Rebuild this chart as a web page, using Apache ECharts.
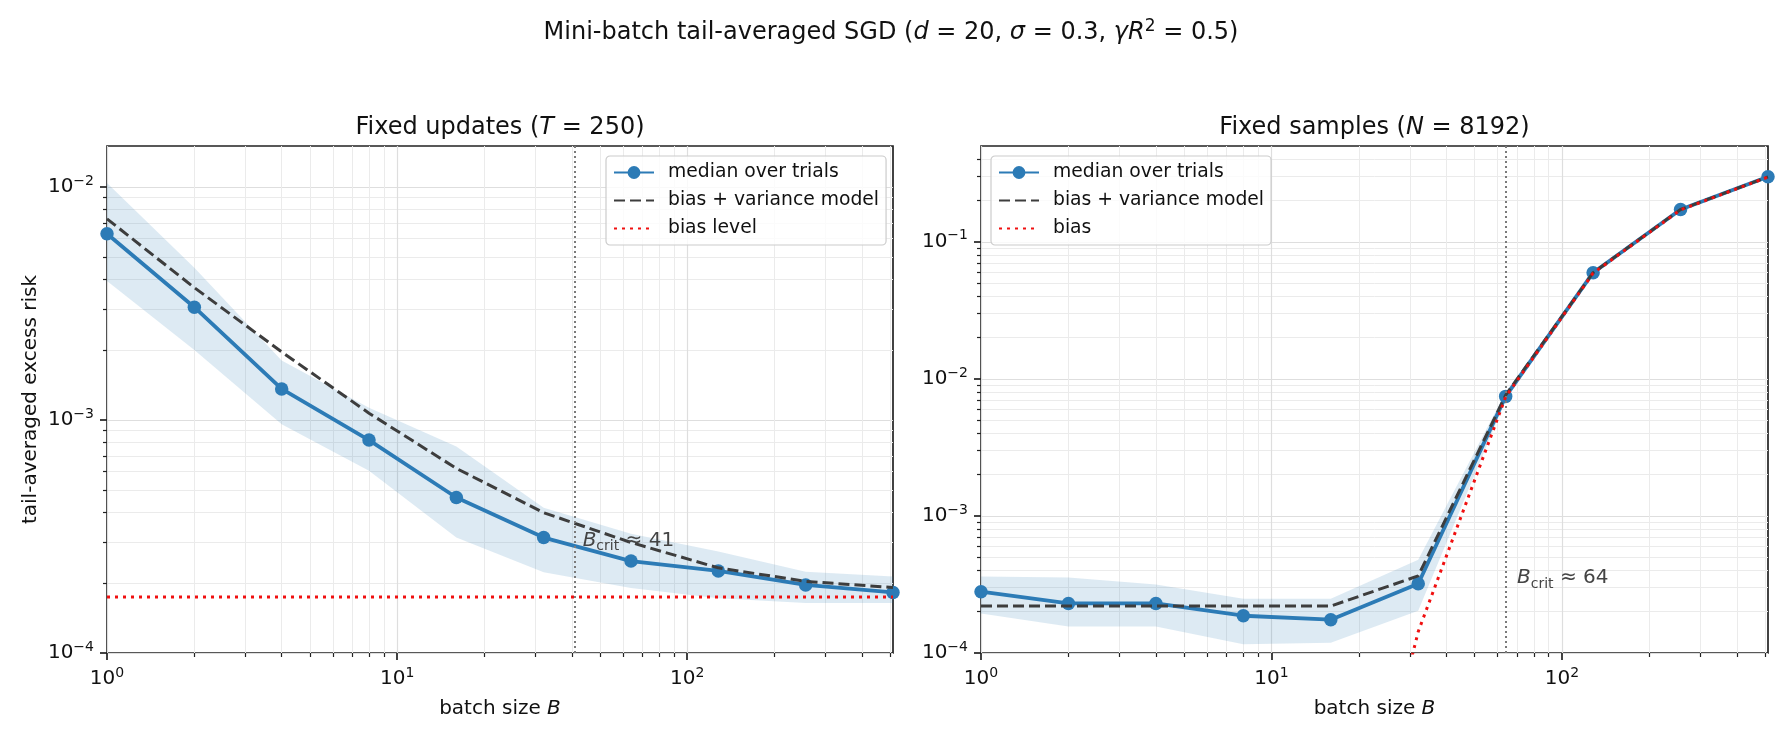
<!DOCTYPE html>
<html>
<head>
<meta charset="utf-8">
<script src="https://cdn.jsdelivr.net/npm/echarts@6/dist/echarts.min.js"></script>
<style>
  html, body { margin: 0; padding: 0; background: #fff; }
  #chart { width: 1783px; height: 736px; }
</style>
</head>
<body>
<div id="chart"></div>
<script>
// batch sizes (x axis of both panels)
const batchSizes = [1, 2, 4, 8, 16, 32, 64, 128, 256, 512]

// left panel: fixed updates (T = 250)
const updMedian = [6.3e-3, 3.05e-3, 1.36e-3, 8.2e-4, 4.65e-4, 3.13e-4, 2.48e-4, 2.25e-4, 1.96e-4, 1.82e-4]
const updModel = [7.3e-3, 3.7e-3, 1.96e-3, 1.07e-3, 6.2e-4, 4.0e-4, 2.98e-4, 2.32e-4, 2.03e-4, 1.91e-4]
const updLow = [3.95e-3, 2.0e-3, 9.6e-4, 6.05e-4, 3.13e-4, 2.22e-4, 1.9e-4, 1.72e-4, 1.64e-4, 1.64e-4]
const updHigh = [1.04e-2, 4.5e-3, 1.8e-3, 1.13e-3, 7.7e-4, 4.2e-4, 3.25e-4, 2.73e-4, 2.23e-4, 2.13e-4]
const updBiasLevel = 1.74e-4
const updBcrit = 41

// right panel: fixed samples (N = 8192)
const smpMedian = [2.8e-4, 2.3e-4, 2.3e-4, 1.87e-4, 1.75e-4, 3.2e-4, 7.45e-3, 5.95e-2, 1.72e-1, 2.98e-1]
const smpModel = [2.2e-4, 2.2e-4, 2.2e-4, 2.2e-4, 2.2e-4, 3.65e-4, 7.6e-3, 5.95e-2, 1.72e-1, 2.98e-1]
const smpBias = [null, null, null, null, 4e-7, 1.43e-4, 7.4e-3, 5.9e-2, 1.71e-1, 2.97e-1]
const smpLow = [1.94e-4, 1.56e-4, 1.56e-4, 1.16e-4, 1.19e-4, 2.03e-4, 7.0e-3, 5.75e-2, 1.69e-1, 2.95e-1]
const smpHigh = [3.62e-4, 3.55e-4, 3.16e-4, 2.49e-4, 2.49e-4, 4.79e-4, 8.0e-3, 6.15e-2, 1.75e-1, 3.01e-1]
const smpBcrit = 64

// ticks
const xMajorTicks = [1, 10, 100]
const xMinorTicks = [2, 3, 4, 5, 6, 7, 8, 9, 20, 30, 40, 50, 60, 70, 80, 90, 200, 300, 400, 500]
const yLeftMajorTicks = [1e-4, 1e-3, 1e-2]
const yLeftMinorTicks = [2e-4, 3e-4, 4e-4, 5e-4, 6e-4, 7e-4, 8e-4, 9e-4, 2e-3, 3e-3, 4e-3, 5e-3, 6e-3, 7e-3, 8e-3, 9e-3]
const yRightMajorTicks = [1e-4, 1e-3, 1e-2, 1e-1]
const yRightMinorTicks = [2e-4, 3e-4, 4e-4, 5e-4, 6e-4, 7e-4, 8e-4, 9e-4, 2e-3, 3e-3, 4e-3, 5e-3, 6e-3, 7e-3, 8e-3, 9e-3,
  2e-2, 3e-2, 4e-2, 5e-2, 6e-2, 7e-2, 8e-2, 9e-2, 0.2, 0.3, 0.4]

const FONT = 'DejaVu Sans'
const BLUE = '#2c7bb6'
const BAND = 'rgba(44,123,182,0.16)'
const DARK = '#3d3d3d'
const RED = '#f01010'
const INK = '#111'

function powLabel(v) {
  const e = Math.round(Math.log10(v))
  return '{m|10}{s|' + (e < 0 ? '\u2212' + (-e) : e) + '}'
}
const tickRich = {
  m: { fontSize: 20, fontFamily: FONT, color: INK, lineHeight: 26 },
  s: { fontSize: 14, fontFamily: FONT, color: INK, verticalAlign: 'top', lineHeight: 14 }
}

function mainX(grid) {
  return {
    type: 'log', logBase: 10, gridIndex: grid, min: 1, max: 512, position: 'bottom',
    name: '{t|batch size }{i|B}', nameLocation: 'middle', nameGap: 46,
    nameTextStyle: {
      rich: {
        t: { fontSize: 20, fontFamily: FONT, color: INK },
        i: { fontSize: 20, fontFamily: FONT, color: INK, fontStyle: 'italic' }
      }
    },
    axisLine: { show: false },
    axisTick: { show: true, length: 7, customValues: xMajorTicks, lineStyle: { color: '#222', width: 1.7 } },
    axisLabel: { customValues: xMajorTicks, formatter: powLabel, rich: tickRich, margin: 13 },
    splitLine: { show: true, lineStyle: { color: '#dedede', width: 1.2 } }
  }
}
function minorX(grid) {
  return {
    type: 'log', logBase: 10, gridIndex: grid, min: 1, max: 512, position: 'bottom',
    axisLine: { show: false },
    axisTick: { show: true, length: 4, customValues: xMinorTicks, lineStyle: { color: '#222', width: 1.2 } },
    axisLabel: { show: false },
    splitLine: { show: true, lineStyle: { color: '#ebebeb', width: 1 } }
  }
}
function mainY(grid, max, majors, name) {
  return {
    type: 'log', logBase: 10, gridIndex: grid, min: 1e-4, max: max, position: 'left',
    name: name, nameLocation: 'middle', nameRotate: 90, nameGap: 66,
    nameTextStyle: { fontSize: 20, fontFamily: FONT, color: INK },
    axisLine: { show: false },
    axisTick: { show: true, length: 7, customValues: majors, lineStyle: { color: '#222', width: 1.7 } },
    axisLabel: { customValues: majors, formatter: powLabel, rich: tickRich, margin: 13 },
    splitLine: { show: true, lineStyle: { color: '#dedede', width: 1.2 } }
  }
}
function minorY(grid, max, minors) {
  return {
    type: 'log', logBase: 10, gridIndex: grid, min: 1e-4, max: max, position: 'left',
    axisLine: { show: false },
    axisTick: { show: true, length: 4, customValues: minors, lineStyle: { color: '#222', width: 1.2 } },
    axisLabel: { show: false },
    splitLine: { show: true, lineStyle: { color: '#ebebeb', width: 1 } }
  }
}

function band(ax, low, high) {
  return {
    type: 'custom', xAxisIndex: ax, yAxisIndex: ax, z: 1, silent: true, clip: true,
    data: batchSizes.map((b, i) => [b, low[i], high[i]]),
    renderItem: function(params, api) {
      if (params.dataIndex !== 0) return null
      const pts = []
      for (let i = 0; i < batchSizes.length; i++) pts.push(api.coord([batchSizes[i], high[i]]))
      for (let i = batchSizes.length - 1; i >= 0; i--) pts.push(api.coord([batchSizes[i], low[i]]))
      return { type: 'polygon', shape: { points: pts }, style: { fill: BAND } }
    }
  }
}
function medianLine(ax, vals) {
  return {
    type: 'line', name: 'median over trials', xAxisIndex: ax, yAxisIndex: ax, z: 3,
    data: batchSizes.map((b, i) => [b, vals[i]]),
    symbol: 'circle', symbolSize: 13.5, showSymbol: true,
    lineStyle: { color: BLUE, width: 3.8 }, itemStyle: { color: BLUE },
    emphasis: { disabled: true }
  }
}
function modelLine(ax, vals) {
  return {
    type: 'line', name: 'bias + variance model', xAxisIndex: ax, yAxisIndex: ax, z: 4,
    data: batchSizes.map((b, i) => [b, vals[i]]),
    symbol: 'none', lineStyle: { color: DARK, width: 3, type: [11, 5] }, itemStyle: { color: DARK },
    emphasis: { disabled: true }
  }
}
function biasLine(ax, name, vals) {
  return {
    type: 'line', name: name, xAxisIndex: ax, yAxisIndex: ax, z: 5,
    data: batchSizes.map((b, i) => [b, vals[i]]),
    symbol: 'none', lineStyle: { color: RED, width: 3, type: [3, 5] }, itemStyle: { color: RED },
    emphasis: { disabled: true }
  }
}
function critMarks(ax, bcrit, at, text) {
  return {
    type: 'line', xAxisIndex: ax, yAxisIndex: ax, z: 2, data: [], silent: true,
    markLine: {
      silent: true, symbol: 'none', animation: false,
      label: { show: false },
      lineStyle: { color: '#7a7a7a', width: 2, type: [2, 3] },
      data: [{ xAxis: bcrit }]
    },
    markPoint: {
      silent: true, symbol: 'circle', symbolSize: 0, animation: false,
      label: {
        show: true, position: 'right', distance: 0,
        formatter: '{i|B}{b|crit}{n| \u2248 ' + text + '}',
        rich: {
          i: { fontSize: 20, fontFamily: FONT, fontStyle: 'italic', color: '#444', lineHeight: 26 },
          b: { fontSize: 14, fontFamily: FONT, color: '#444', verticalAlign: 'bottom', lineHeight: 14 },
          n: { fontSize: 20, fontFamily: FONT, color: '#444', lineHeight: 26 }
        }
      },
      data: [{ coord: at }]
    }
  }
}

function legendFor(left, names) {
  return {
    orient: 'vertical', left: left, top: 156, z: 10,
    padding: [7, 7, 7, 7], itemGap: 9, itemWidth: 40, itemHeight: 16,
    backgroundColor: 'rgba(255,255,255,0.8)', borderColor: '#cccccc', borderWidth: 1.2, borderRadius: 4,
    selectedMode: false,
    textStyle: { fontFamily: FONT, fontSize: 18.75, color: INK, lineHeight: 19, padding: [0, 0, 0, 9] },
    // only the median entry carries a marker
    data: names.map((n, i) => (i === 0 ? { name: n } : { name: n, itemStyle: { opacity: 0 } }))
  }
}

const titleRich = {
  n: { fontSize: 24, fontFamily: FONT, fontWeight: 'normal', color: INK, lineHeight: 30 },
  i: { fontSize: 24, fontFamily: FONT, fontWeight: 'normal', color: INK, fontStyle: 'italic', lineHeight: 30 },
  p: { fontSize: 17, fontFamily: FONT, fontWeight: 'normal', color: INK, verticalAlign: 'top', lineHeight: 17 }
}

const option = {
  animation: false,
  backgroundColor: '#fff',
  title: [
    {
      text: '{n|Mini-batch tail-averaged SGD (}{i|d}{n| = 20, }{i|\u03c3}{n| = 0.3, }{i|\u03b3R}{p|2}{n| = 0.5)}',
      left: 891, top: 18, textAlign: 'center', padding: 0,
      textStyle: { fontWeight: 'normal', rich: titleRich }
    },
    {
      text: '{n|Fixed updates (}{i|T}{n| = 250)}',
      left: 500, top: 113, textAlign: 'center', padding: 0,
      textStyle: { fontWeight: 'normal', rich: titleRich }
    },
    {
      text: '{n|Fixed samples (}{i|N}{n| = 8192)}',
      left: 1374.5, top: 113, textAlign: 'center', padding: 0,
      textStyle: { fontWeight: 'normal', rich: titleRich }
    }
  ],
  grid: [
    { left: 107, top: 146, width: 786, height: 507, show: true, borderColor: '#222', borderWidth: 1.7, backgroundColor: 'transparent', outerBoundsMode: 'none' },
    { left: 981, top: 146, width: 787, height: 507, show: true, borderColor: '#222', borderWidth: 1.7, backgroundColor: 'transparent', outerBoundsMode: 'none' }
  ],
  xAxis: [mainX(0), minorX(0), mainX(1), minorX(1)],
  yAxis: [
    mainY(0, 0.015, yLeftMajorTicks, 'tail-averaged excess risk'),
    minorY(0, 0.015, yLeftMinorTicks),
    mainY(1, 0.5, yRightMajorTicks, ''),
    minorY(1, 0.5, yRightMinorTicks)
  ],
  legend: [
    legendFor(606, ['median over trials', 'bias + variance model', 'bias level']),
    legendFor(991, ['median over trials', 'bias + variance model', 'bias'])
  ],
  series: [
    band(0, updLow, updHigh),
    critMarks(0, updBcrit, [43.6, 3.03e-4], '41'),
    medianLine(0, updMedian),
    modelLine(0, updModel),
    biasLine(0, 'bias level', batchSizes.map(() => updBiasLevel)),
    band(2, smpLow, smpHigh),
    critMarks(2, smpBcrit, [70, 3.53e-4], '64'),
    medianLine(2, smpMedian),
    modelLine(2, smpModel),
    biasLine(2, 'bias', smpBias)
  ]
}

const chart = echarts.init(document.getElementById('chart'))
chart.setOption(option)
</script>
</body>
</html>
